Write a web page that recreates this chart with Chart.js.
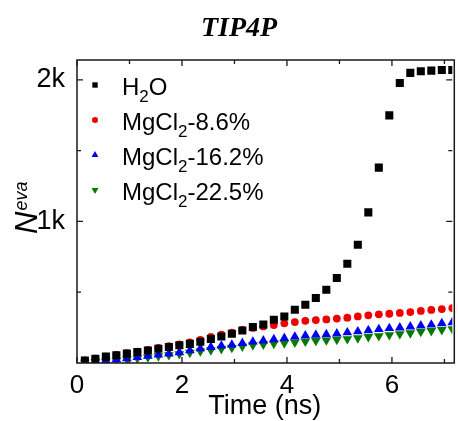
<!DOCTYPE html>
<html>
<head>
<meta charset="utf-8">
<script src="https://cdn.jsdelivr.net/npm/chart.js@4.4.0/dist/chart.umd.min.js"></script>
<style>
  html, body { margin: 0; padding: 0; background: #fff; }
</style>
</head>
<body>
<canvas id="neva" width="458" height="421"></canvas>
<script>
// evaporated molecules vs. time, TIP4P water and MgCl2 solutions
const time = [0.15, 0.35, 0.55, 0.75, 0.95, 1.15, 1.35, 1.55, 1.75, 1.95,
    2.15, 2.35, 2.55, 2.75, 2.95, 3.15, 3.35, 3.55, 3.75, 3.95,
    4.15, 4.35, 4.55, 4.75, 4.95, 5.15, 5.35, 5.55, 5.75, 5.95,
    6.15, 6.35, 6.55, 6.75, 6.95, 7.15]
const h2o = [18, 30, 45, 55, 66, 78, 88, 100, 113, 126,
    135, 150, 169, 187, 206, 230, 254, 272, 305, 329,
    376, 411, 459, 517, 600, 701, 835, 1064, 1380, 1749,
    1978, 2049, 2060, 2065, 2070, 2070]
const mg86 = [18, 30, 45, 57, 69, 81, 93, 106, 119, 132,
    145, 163, 185, 200, 215, 233, 248, 258, 268, 280,
    289, 298, 303, 308, 314, 320, 329, 337, 344, 348,
    354, 360, 368, 375, 381, 388]
const mg162 = [6, 12, 18, 25, 33, 41, 50, 58, 66, 75,
    88, 102, 112, 122, 129, 140, 150, 158, 167, 175,
    185, 193, 198, 202, 207, 215, 222, 230, 238, 245,
    250, 257, 264, 270, 280, 287]
const mg225 = [4, 8, 12, 18, 26, 34, 41, 49, 57, 64,
    73, 83, 91, 100, 108, 117, 126, 132, 137, 141,
    146, 152, 157, 161, 165, 170, 176, 185, 191, 198,
    205, 211, 221, 227, 234, 240]

// legend names, middle part is the subscript
const names = [['H', '2', 'O'], ['MgCl', '2', '-8.6%'], ['MgCl', '2', '-16.2%'], ['MgCl', '2', '-22.5%']]
const xMajor = [0, 2, 4, 6]
const xMinor = [1, 3, 5, 7]
const yMajor = [1000, 2000]
const yMinor = [500, 1500]

const sans = '"Liberation Sans", Arial, sans-serif'

function pts(ys) {
    return ys.map((v, i) => ({ x: time[i], y: v }))
}

function series(label, ys, color, style, radius, rotation, legendRadius) {
    return {
        label,
        data: pts(ys),
        pointStyle: style,
        pointRadius: radius,
        pointHoverRadius: radius,
        pointRotation: rotation,
        backgroundColor: color,
        borderColor: color,
        pointBorderWidth: 0,
        showLine: false,
        legendRadius
    }
}

const frame = {
    id: 'frame',
    afterDraw(chart) {
        const { ctx, chartArea: a, scales: { x, y } } = chart
        ctx.save()
        ctx.strokeStyle = '#1a1a1a'
        ctx.lineWidth = 1.5
        ctx.strokeRect(a.left, a.top, a.right - a.left + 2, a.bottom - a.top)

        ctx.lineWidth = 1.3
        ctx.beginPath()
        const tx = (v, len) => {
            const px = x.getPixelForValue(v)
            ctx.moveTo(px, a.bottom); ctx.lineTo(px, a.bottom - len)
            ctx.moveTo(px, a.top); ctx.lineTo(px, a.top + len)
        }
        const ty = (v, len) => {
            const py = y.getPixelForValue(v)
            ctx.moveTo(a.left, py); ctx.lineTo(a.left + len, py)
            ctx.moveTo(a.right, py); ctx.lineTo(a.right - len, py)
        }
        xMajor.forEach(v => tx(v, 6))
        xMinor.forEach(v => tx(v, 4))
        yMajor.forEach(v => ty(v, 6))
        yMinor.forEach(v => ty(v, 4))
        ctx.stroke()

        // title
        ctx.fillStyle = '#000'
        ctx.textAlign = 'center'
        ctx.textBaseline = 'alphabetic'
        ctx.font = 'bold italic 28px "Liberation Serif", "Times New Roman", serif'
        ctx.fillText('TIP4P', 239, 36)

        // y title N_eva, rotated
        ctx.save()
        ctx.translate(37, 234)
        ctx.rotate(-Math.PI / 2)
        ctx.textAlign = 'left'
        ctx.font = 'italic 31px ' + sans
        ctx.fillText('N', 0, 0)
        const w = ctx.measureText('N').width
        ctx.font = 'italic 18px ' + sans
        ctx.fillText('eva', w + 1, -10)
        ctx.restore()

        // legend
        ctx.textAlign = 'left'
        chart.data.datasets.forEach((ds, i) => {
            const base = 95 + 35 * i
            ctx.fillStyle = ds.backgroundColor
            Chart.helpers.drawPoint(ctx, {
                pointStyle: ds.pointStyle,
                radius: ds.legendRadius,
                rotation: ds.pointRotation,
                borderWidth: 0
            }, 95, base - 10)
            ctx.fillStyle = '#000'
            let tx0 = 122
            const [a0, sub, a1] = names[i]
            ctx.font = '24px ' + sans
            ctx.fillText(a0, tx0, base)
            tx0 += ctx.measureText(a0).width
            ctx.font = '17px ' + sans
            ctx.fillText(sub, tx0, base + 7)
            tx0 += ctx.measureText(sub).width
            ctx.font = '24px ' + sans
            ctx.fillText(a1, tx0, base)
        })
        ctx.restore()
    }
}

const chart = new Chart(document.getElementById('neva'), {
    type: 'scatter',
    data: {
        datasets: [
            series('H2O', h2o, '#000000', 'rect', 5.7, 0, 3.8),
            series('MgCl2-8.6%', mg86, '#f00000', 'circle', 3.9, 0, 3),
            series('MgCl2-16.2%', mg162, '#0000f0', 'triangle', 5.6, 0, 4),
            series('MgCl2-22.5%', mg225, '#007a00', 'triangle', 5.6, 180, 4)
        ]
    },
    options: {
        responsive: false,
        animation: false,
        layout: { padding: { top: 60, right: 0, left: 0, bottom: 0 } },
        plugins: { legend: { display: false }, tooltip: { enabled: false } },
        scales: {
            x: {
                type: 'linear',
                min: 0,
                max: 7.15,
                grid: { display: false },
                border: { display: false },
                afterFit: s => { s.height = 58 },
                afterBuildTicks: s => { s.ticks = xMajor.map(v => ({ value: v })) },
                ticks: {
                    padding: -1,
                    color: '#000',
                    font: { family: sans, size: 26 },
                    maxRotation: 0,
                    autoSkip: false,
                    callback: v => v
                },
                title: {
                    display: true,
                    text: 'Time (ns)',
                    color: '#000',
                    font: { family: sans, size: 27, lineHeight: 1 },
                    padding: { top: 0, bottom: 1 }
                }
            },
            y: {
                min: 0,
                max: 2140,
                grid: { display: false },
                border: { display: false },
                afterFit: s => { s.width = 77 },
                afterBuildTicks: s => { s.ticks = yMajor.map(v => ({ value: v })) },
                ticks: {
                    padding: 4,
                    color: '#000',
                    autoSkip: false,
                    font: { family: sans, size: 27 },
                    callback: v => v / 1000 + 'k'
                }
            }
        }
    },
    plugins: [frame]
})
</script>
</body>
</html>
